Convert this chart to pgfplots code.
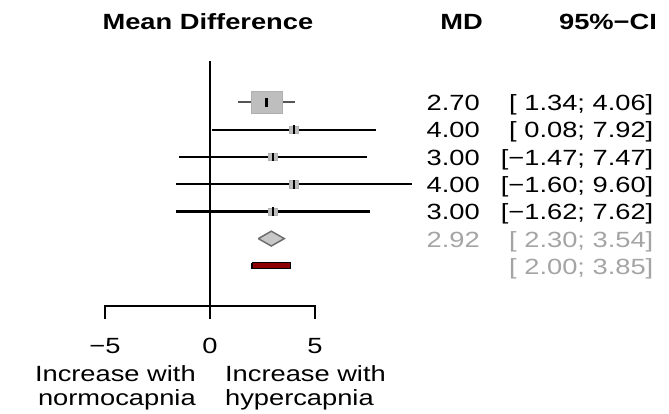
\documentclass[border=0pt]{standalone}
\usepackage{fontspec}
\setmainfont{Liberation Sans}[FakeStretch=1.24]
\usepackage{pgfplots}
\pgfplotsset{compat=1.18}
\definecolor{sqgray}{HTML}{BEBEBE}
\definecolor{sqedge}{HTML}{B0B0B0}
\definecolor{diafill}{HTML}{C8C8C8}
\definecolor{diaedge}{HTML}{6E6E6E}
\definecolor{txtgray}{HTML}{A4A4A4}
\definecolor{pired}{HTML}{8B0000}
\definecolor{cigray}{HTML}{555555}
\begin{document}
\begin{tikzpicture}[lab/.style={font=\fontsize{22bp}{26bp}\selectfont, inner sep=0pt}]
\begin{axis}[
  width=669bp, height=414bp, scale only axis,
  xmin=-10, xmax=21.857, ymin=0, ymax=414, y dir=reverse,
  hide axis, clip=false]
\path (rel axis cs:0,0) rectangle (rel axis cs:1,1);
% zero line and x axis
\addplot[black, line width=2.5bp] coordinates {(0,61) (0,319)};
\addplot[black, line width=2bp, line join=miter] coordinates {(-5,319) (-5,306) (5,306) (5,319)};
% squares
\addplot[only marks, mark=square*, mark size=11.3bp, mark options={xscale=1.36, fill=sqgray, draw=sqedge, line width=0.6bp}] coordinates {(2.70,102.3)};
\addplot[only marks, mark=square*, mark size=3.6bp, mark options={xscale=1.3, fill=sqgray, draw=sqedge, line width=0.6bp}] coordinates {(4.00,129.6) (3.00,156.9) (4.00,184.2) (3.00,211.5)};
% confidence intervals
\addplot[cigray, line width=1.6bp] coordinates {(1.34,102.3) (4.06,102.3)};
\addplot[black, line width=2.2bp] coordinates {(0.08,129.6) (7.92,129.6)};
\addplot[black, line width=2.2bp] coordinates {(-1.47,156.9) (7.47,156.9)};
\addplot[black, line width=2.2bp] coordinates {(-1.60,184.2) (9.60,184.2)};
\addplot[black, line width=2.2bp] coordinates {(-1.62,211.5) (7.62,211.5)};
% estimate ticks
\addplot[only marks, mark=|, mark size=4.3bp, mark options={line width=2.6bp, black}] coordinates {(2.70,102.3) (4.00,129.6) (3.00,156.9) (4.00,184.2) (3.00,211.5)};
% pooled diamond
\addplot[fill=diafill, draw=diaedge, line width=1.5bp, line join=miter] coordinates {(2.30,238.6) (2.92,231.2) (3.54,238.6) (2.92,246.0) (2.30,238.6)};
% prediction interval
\addplot[fill=pired, draw=black, line width=1.2bp] coordinates {(2.00,262.5) (3.85,262.5) (3.85,268.8) (2.00,268.8) (2.00,262.5)};
% headers
\node[lab, anchor=base, font=\fontsize{22bp}{26bp}\selectfont\bfseries] at (axis cs:-0.1,30) {Mean Difference};
\node[lab, anchor=base east, font=\fontsize{22bp}{26bp}\selectfont\bfseries] at (axis cs:13.0,30) {MD};
\node[lab, anchor=base east, font=\fontsize{22bp}{26bp}\selectfont\bfseries] at (axis cs:21.29,30) {95\%−CI};
% study values
\node[lab, anchor=base east] at (axis cs:12.857,110.6) {2.70};
\node[lab, anchor=base east] at (axis cs:21.12,110.6) {[ 1.34; 4.06]};
\node[lab, anchor=base east] at (axis cs:12.857,137.9) {4.00};
\node[lab, anchor=base east] at (axis cs:21.12,137.9) {[ 0.08; 7.92]};
\node[lab, anchor=base east] at (axis cs:12.857,165.2) {3.00};
\node[lab, anchor=base east] at (axis cs:21.12,165.2) {[−1.47; 7.47]};
\node[lab, anchor=base east] at (axis cs:12.857,192.5) {4.00};
\node[lab, anchor=base east] at (axis cs:21.12,192.5) {[−1.60; 9.60]};
\node[lab, anchor=base east] at (axis cs:12.857,219.8) {3.00};
\node[lab, anchor=base east] at (axis cs:21.12,219.8) {[−1.62; 7.62]};
\node[lab, anchor=base east, text=txtgray] at (axis cs:12.857,247.1) {2.92};
\node[lab, anchor=base east, text=txtgray] at (axis cs:21.12,247.1) {[ 2.30; 3.54]};
\node[lab, anchor=base east, text=txtgray] at (axis cs:21.12,274.4) {[ 2.00; 3.85]};
% tick labels
\node[lab, anchor=base] at (axis cs:-5,353) {−5};
\node[lab, anchor=base] at (axis cs:0,353) {0};
\node[lab, anchor=base] at (axis cs:5,353) {5};
% direction labels
\node[lab, anchor=base east] at (axis cs:-0.67,381) {Increase with};
\node[lab, anchor=base east] at (axis cs:-0.67,405) {normocapnia};
\node[lab, anchor=base west] at (axis cs:0.71,381) {Increase with};
\node[lab, anchor=base west] at (axis cs:0.71,405) {hypercapnia};
\end{axis}
\end{tikzpicture}
\end{document}
